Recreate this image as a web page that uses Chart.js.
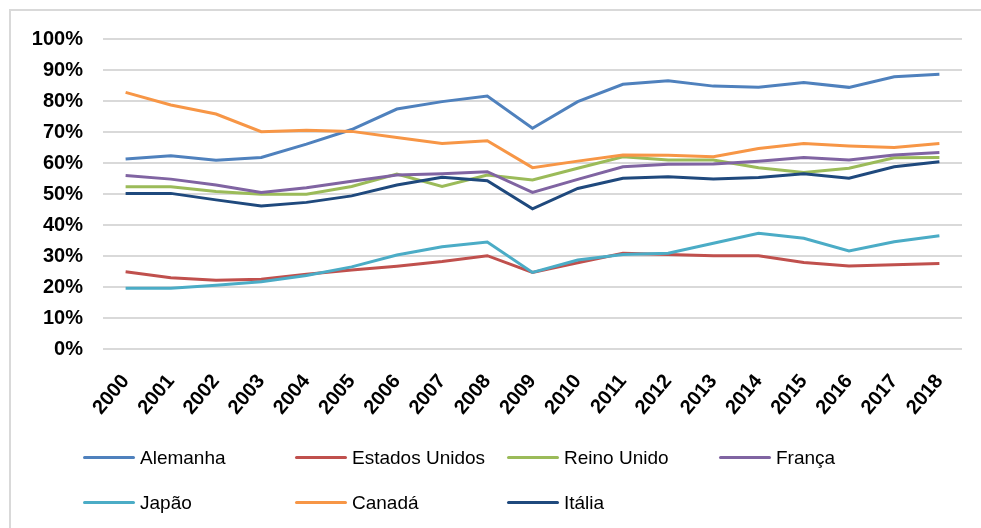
<!DOCTYPE html>
<html>
<head>
<meta charset="utf-8">
<script src="https://cdn.jsdelivr.net/npm/chart.js@4/dist/chart.umd.min.js"></script>
<style>
  html, body { margin: 0; padding: 0; background: #fff; overflow: hidden; }
  #wrap { position: relative; width: 981px; height: 528px; overflow: hidden; }
  #frame { position: absolute; left: 9px; top: 9px; width: 1100px; height: 700px;
           border-left: 2px solid #d9d9d9; border-top: 2px solid #d9d9d9; }
  #chart { position: absolute; left: 0; top: 0; }
  #legend { position: absolute; left: 83px; top: 446px; display: grid;
            grid-template-columns: repeat(4, 212px); row-gap: 22px;
            font-family: "Liberation Sans", Arial, sans-serif; font-size: 19px; color: #000; }
  #legend .item { display: flex; align-items: center; white-space: nowrap; height: 23px; }
  #legend .swatch { width: 52px; height: 3px; border-radius: 2px; margin-right: 5px; }
</style>
</head>
<body>
<div id="wrap">
  <div id="frame"></div>
  <canvas id="chart" width="981" height="528"></canvas>
  <div id="legend"></div>
</div>
<script>
// anos e séries (fração do total)
const years = ["2000", "2001", "2002", "2003", "2004", "2005", "2006", "2007", "2008", "2009",
               "2010", "2011", "2012", "2013", "2014", "2015", "2016", "2017", "2018"];

const alemanha = [61.3, 62.3, 60.9, 61.8, 66.1, 70.8, 77.4, 79.8, 81.6, 71.2,
                  79.8, 85.4, 86.5, 84.8, 84.4, 86.0, 84.4, 87.8, 88.6];
const estadosUnidos = [24.9, 23.0, 22.2, 22.5, 24.1, 25.5, 26.7, 28.2, 30.1, 24.7,
                       27.8, 30.9, 30.5, 30.1, 30.1, 27.9, 26.8, 27.2, 27.6];
const reinoUnido = [52.3, 52.3, 50.8, 49.9, 49.9, 52.4, 56.4, 52.4, 56.1, 54.5,
                    58.3, 62.0, 61.0, 61.0, 58.5, 56.9, 58.3, 61.7, 61.8];
const franca = [56.0, 54.8, 52.9, 50.5, 52.0, 54.1, 56.1, 56.5, 57.2, 50.5,
                54.7, 58.8, 59.6, 59.7, 60.6, 61.8, 61.0, 62.6, 63.4];
const japao = [19.6, 19.6, 20.6, 21.7, 23.7, 26.5, 30.3, 33.0, 34.5, 24.7,
               28.7, 30.5, 30.9, 34.1, 37.3, 35.7, 31.6, 34.6, 36.5];
const canada = [82.8, 78.7, 75.8, 70.1, 70.6, 70.2, 68.2, 66.3, 67.2, 58.5,
                60.6, 62.6, 62.5, 62.0, 64.7, 66.3, 65.5, 65.0, 66.3];
const italia = [50.2, 50.2, 48.1, 46.1, 47.3, 49.4, 52.9, 55.4, 54.3, 45.2,
                51.8, 55.1, 55.6, 54.8, 55.3, 56.5, 55.1, 58.8, 60.4];

const seriesNames = ["Alemanha", "Estados Unidos", "Reino Unido", "França", "Japão", "Canadá", "Itália"];
const seriesValues = [alemanha, estadosUnidos, reinoUnido, franca, japao, canada, italia];
const seriesColors = ["#4f81bd", "#c0504d", "#9bbb59", "#8064a2", "#4bacc6", "#f79646", "#1f497d"];

const yTicks = [0, 10, 20, 30, 40, 50, 60, 70, 80, 90, 100];

const tickFont = { family: "'Liberation Sans', Arial, sans-serif", size: 20, weight: "bold" };

const datasets = seriesNames.map((name, i) => ({
  label: name,
  data: seriesValues[i].map(v => v / 100),
  borderColor: seriesColors[i],
  backgroundColor: seriesColors[i],
  borderWidth: 3,
  pointRadius: 0,
  tension: 0,
  // later series on top, like the spreadsheet original
  order: seriesNames.length - i
}));

const chart = new Chart(document.getElementById("chart"), {
  type: "line",
  data: { labels: years, datasets },
  options: {
    responsive: false,
    animation: false,
    layout: { padding: { left: 0, top: 39, right: 19, bottom: 89 } },
    plugins: { legend: { display: false }, tooltip: { enabled: false } },
    scales: {
      x: {
        offset: true,
        grid: { display: false },
        border: { display: false },
        ticks: {
          color: "#000",
          font: tickFont,
          minRotation: 50,
          maxRotation: 50,
          autoSkip: false,
          padding: 13
        },
        afterFit(scale) { scale.height = 90; }
      },
      y: {
        min: 0,
        max: 1,
        afterBuildTicks(scale) { scale.ticks = yTicks.map(v => ({ value: v / 100 })); },
        grid: { color: "#d9d9d9", lineWidth: 2, drawTicks: false },
        border: { display: false },
        ticks: {
          color: "#000",
          font: tickFont,
          padding: 20,
          callback: v => Math.round(v * 100) + "%"
        },
        afterFit(scale) { scale.width = 103; }
      }
    }
  }
});

// legend in fixed columns, built from the datasets
const legendEl = document.getElementById("legend");
chart.data.datasets.forEach(ds => {
  const item = document.createElement("div");
  item.className = "item";
  const sw = document.createElement("span");
  sw.className = "swatch";
  sw.style.background = ds.borderColor;
  const txt = document.createElement("span");
  txt.textContent = ds.label;
  item.appendChild(sw);
  item.appendChild(txt);
  legendEl.appendChild(item);
});
</script>
</body>
</html>
